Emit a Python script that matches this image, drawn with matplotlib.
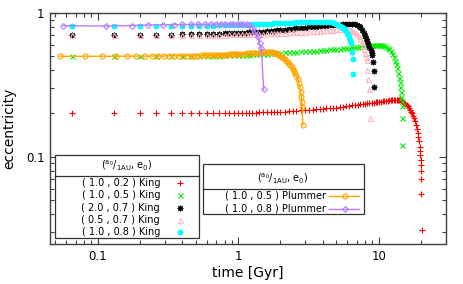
import matplotlib
matplotlib.use('Agg')
import matplotlib.pyplot as plt
from matplotlib.patches import Rectangle
from matplotlib.ticker import LogLocator, FuncFormatter, NullFormatter

plt.rcParams['font.family'] = ['DejaVu Sans']
plt.rcParams['mathtext.default'] = 'regular'

# ---- data (time in Gyr, eccentricity) ----
t_king_early = [0.066, 0.13, 0.2, 0.26, 0.33, 0.4, 0.46, 0.53, 0.6, 0.66, 0.73, 0.8, 0.86, 0.93, 1.0,
                1.06, 1.13, 1.2, 1.26, 1.33, 1.4, 1.5, 1.6, 1.7, 1.8, 1.9, 2.0]

# King (1.0, 0.2)
t_red = t_king_early + [2.15, 2.3, 2.45, 2.6, 2.8, 3.0, 3.2, 3.4, 3.6, 3.8, 4.0,
                        4.25, 4.5, 4.75, 5.0, 5.3, 5.6, 5.9, 6.2, 6.5, 6.8, 7.1, 7.4, 7.7, 8.0,
                        8.3, 8.6, 8.9, 9.2, 9.5, 9.8, 10.1, 10.4, 10.7, 11.0, 11.3, 11.6, 11.9, 12.2,
                        12.5, 12.8, 13.1, 13.4, 13.7, 14.0, 14.3, 14.6, 14.9, 15.2, 15.5, 15.8, 16.1, 16.4,
                        16.7, 17.0, 17.3, 17.6, 17.9, 18.2, 18.5, 18.8,
                        19.0, 19.2, 19.4, 19.6, 19.7, 19.8, 19.9, 20.0, 20.05, 20.1, 20.15, 20.2]
e_red = [0.200, 0.200, 0.200, 0.200, 0.200, 0.201, 0.201, 0.201, 0.201, 0.201, 0.202, 0.202, 0.202, 0.202,
         0.202, 0.202, 0.203, 0.203, 0.203, 0.203, 0.204, 0.204, 0.204, 0.205, 0.205, 0.205, 0.206,
         0.206, 0.207, 0.208, 0.209, 0.210, 0.211, 0.212, 0.213, 0.214, 0.215, 0.216,
         0.217, 0.218, 0.219, 0.220, 0.222, 0.223, 0.225, 0.226, 0.228, 0.229, 0.230, 0.232, 0.233, 0.234,
         0.235, 0.236, 0.237, 0.238, 0.239, 0.240, 0.241, 0.242, 0.243, 0.244, 0.245, 0.246, 0.247, 0.248,
         0.248, 0.249, 0.249, 0.250, 0.250, 0.249, 0.247, 0.245, 0.242, 0.238, 0.234, 0.229, 0.224, 0.218,
         0.212, 0.206, 0.200, 0.193, 0.185, 0.176, 0.166, 0.155,
         0.147, 0.138, 0.128, 0.117, 0.110, 0.103, 0.095, 0.0875, 0.080, 0.070, 0.055, 0.031]

# King (1.0, 0.5)
t_green = t_king_early + [2.15, 2.3, 2.45, 2.6, 2.8, 3.0, 3.2, 3.4, 3.6, 3.8, 4.0,
                          4.25, 4.5, 4.75, 5.0, 5.3, 5.6, 5.9, 6.2, 6.5, 6.8, 7.1, 7.4, 7.7, 8.0,
                          8.3, 8.6, 8.9, 9.2, 9.5, 9.8, 10.1, 10.4, 10.7, 11.0,
                          11.3, 11.6, 11.9, 12.2, 12.5, 12.8, 13.1,
                          13.3, 13.5, 13.7, 13.9, 14.1, 14.25, 14.4, 14.5, 14.6, 14.65, 14.7, 14.75]
e_green = [0.500, 0.500, 0.500, 0.501, 0.501, 0.502, 0.502, 0.503, 0.504, 0.505, 0.506, 0.507, 0.508, 0.509,
           0.510, 0.511, 0.513, 0.514, 0.515, 0.517, 0.518, 0.520, 0.522, 0.524, 0.526, 0.528, 0.530,
           0.532, 0.534, 0.536, 0.538, 0.540, 0.542, 0.544, 0.546, 0.548, 0.550, 0.552,
           0.556, 0.558, 0.561, 0.563, 0.566, 0.569, 0.572, 0.575, 0.578, 0.581, 0.584, 0.587, 0.590, 0.593,
           0.596, 0.598, 0.600, 0.602, 0.603, 0.603, 0.602, 0.600, 0.596, 0.590,
           0.583, 0.574, 0.561, 0.544, 0.522, 0.496, 0.466,
           0.440, 0.412, 0.385, 0.355, 0.330, 0.305, 0.280, 0.262, 0.245, 0.225, 0.186, 0.120]

# King (2.0, 0.7)
t_black = t_king_early + [2.15, 2.3, 2.45, 2.6, 2.8, 3.0, 3.2, 3.4, 3.6, 3.8, 4.0,
                          4.25, 4.5, 4.75, 5.0, 5.3, 5.6, 5.9, 6.2, 6.5, 6.8,
                          7.0, 7.2, 7.4, 7.6, 7.8, 8.0, 8.15, 8.3, 8.45, 8.6, 8.75, 8.9,
                          9.0, 9.1, 9.2, 9.3]
e_black = [0.705, 0.705, 0.706, 0.707, 0.708, 0.710, 0.711, 0.713, 0.715, 0.717, 0.719, 0.721, 0.723, 0.725,
           0.727, 0.729, 0.731, 0.733, 0.735, 0.737, 0.740, 0.743, 0.746, 0.750, 0.754, 0.758, 0.762,
           0.767, 0.772, 0.777, 0.782, 0.787, 0.792, 0.797, 0.801, 0.805, 0.809, 0.812,
           0.816, 0.820, 0.823, 0.826, 0.829, 0.832, 0.834, 0.836, 0.837, 0.836,
           0.830, 0.818, 0.798, 0.765, 0.728, 0.692, 0.665, 0.635, 0.605, 0.578, 0.553, 0.530,
           0.510, 0.458, 0.397, 0.304]

# King (0.5, 0.7)
t_pink = t_king_early + [2.15, 2.3, 2.45, 2.6, 2.8, 3.0, 3.2, 3.4, 3.6, 3.8, 4.0,
                         4.25, 4.5, 4.75, 5.0, 5.3, 5.6, 5.9, 6.2,
                         6.4, 6.6, 6.8, 7.0, 7.2, 7.4, 7.55, 7.7, 7.85, 8.0, 8.1,
                         8.2, 8.3, 8.4, 8.5, 8.7]
e_pink = [0.700, 0.700, 0.700, 0.701, 0.701, 0.702, 0.703, 0.704, 0.705, 0.706, 0.707, 0.708, 0.709, 0.710,
          0.711, 0.712, 0.713, 0.714, 0.715, 0.716, 0.717, 0.719, 0.721, 0.723, 0.725, 0.727, 0.729,
          0.731, 0.733, 0.735, 0.737, 0.740, 0.743, 0.746, 0.749, 0.752, 0.755, 0.758,
          0.761, 0.764, 0.767, 0.770, 0.772, 0.774, 0.774, 0.772,
          0.766, 0.755, 0.738, 0.718, 0.692, 0.660, 0.630, 0.598, 0.562, 0.525, 0.495,
          0.470, 0.400, 0.347, 0.294, 0.187]

# King (1.0, 0.8)
t_cyan = t_king_early + [2.15, 2.3, 2.45, 2.6, 2.8, 3.0, 3.2, 3.4, 3.6, 3.8, 4.0,
                         4.2, 4.4, 4.6, 4.8, 5.0,
                         5.15, 5.3, 5.45, 5.6, 5.75, 5.9, 6.0,
                         6.1, 6.2, 6.3, 6.4, 6.5, 6.55, 6.6]
e_cyan = [0.810, 0.810, 0.811, 0.811, 0.812, 0.813, 0.814, 0.815, 0.816, 0.818, 0.819, 0.820, 0.822, 0.823,
          0.825, 0.827, 0.828, 0.830, 0.832, 0.834, 0.836, 0.838, 0.840, 0.843, 0.846, 0.849, 0.852,
          0.854, 0.856, 0.858, 0.860, 0.862, 0.864, 0.866, 0.868, 0.869, 0.870, 0.870,
          0.869, 0.866, 0.861, 0.853, 0.842,
          0.830, 0.815, 0.798, 0.785, 0.770, 0.750, 0.728,
          0.705, 0.680, 0.650, 0.615, 0.538, 0.476, 0.376]

# Plummer (1.0, 0.5)
t_orange = [0.054, 0.081, 0.108, 0.135, 0.162, 0.189, 0.216, 0.243, 0.27, 0.297, 0.324, 0.351,
            0.378, 0.405, 0.432, 0.459, 0.486, 0.513, 0.54, 0.567, 0.594, 0.621, 0.648, 0.675,
            0.702, 0.729, 0.756, 0.783, 0.81, 0.837, 0.864, 0.891, 0.918, 0.945, 0.972, 1.0,
            1.05, 1.1, 1.15, 1.2, 1.25, 1.3, 1.35, 1.4, 1.45, 1.5, 1.55, 1.6, 1.65,
            1.7, 1.75, 1.8, 1.85, 1.9, 1.95, 2.0, 2.05, 2.1, 2.15, 2.2, 2.25, 2.3, 2.35, 2.4,
            2.45, 2.5, 2.55, 2.6, 2.65, 2.7,
            2.74, 2.78, 2.81, 2.84, 2.86, 2.88]
e_orange = [0.500, 0.500, 0.500, 0.500, 0.501, 0.501, 0.501, 0.502, 0.502, 0.502, 0.503, 0.503,
            0.504, 0.504, 0.505, 0.505, 0.506, 0.506, 0.507, 0.507, 0.508, 0.509, 0.509, 0.510,
            0.511, 0.511, 0.512, 0.513, 0.513, 0.514, 0.515, 0.515, 0.516, 0.517, 0.517, 0.518,
            0.520, 0.521, 0.523, 0.524, 0.526, 0.527, 0.529, 0.530, 0.532, 0.533, 0.534, 0.535, 0.536,
            0.535, 0.532, 0.528, 0.523, 0.517, 0.510, 0.503, 0.495, 0.486, 0.477, 0.467, 0.456,
            0.445, 0.434, 0.422, 0.410, 0.397, 0.382, 0.366, 0.348, 0.326,
            0.305, 0.282, 0.262, 0.240, 0.221, 0.165]

# Plummer (1.0, 0.8)
t_purple = [0.057, 0.115, 0.175, 0.23, 0.29, 0.35, 0.40, 0.46, 0.52, 0.58, 0.64, 0.70, 0.76, 0.81,
            0.87, 0.92, 0.98, 1.03, 1.09, 1.15, 1.2, 1.26, 1.32, 1.38, 1.42, 1.46, 1.52]
e_purple = [0.815, 0.812, 0.818, 0.825, 0.828, 0.830, 0.832, 0.833, 0.834, 0.835, 0.836, 0.836, 0.837, 0.837,
            0.837, 0.837, 0.836, 0.835, 0.834, 0.832, 0.822, 0.790, 0.745, 0.684, 0.615, 0.568, 0.294]

king_labels = ['( 1.0 , 0.2 ) King', '( 1.0 , 0.5 ) King', '( 2.0 , 0.7 ) King',
               '( 0.5 , 0.7 ) King', '( 1.0 , 0.8 ) King']
plummer_labels = ['( 1.0 , 0.5 ) Plummer', '( 1.0 , 0.8 ) Plummer']
key_title = r'($^{a_0}/_{1AU}$, e$_0$)'

asterisk = (8, 2, 0)
king_series = [
    (t_red, e_red, dict(marker='+', color='#ff0000', ms=4.2, mew=0.8)),
    (t_green, e_green, dict(marker='x', color='#00ee00', ms=3.6, mew=0.8)),
    (t_black, e_black, dict(marker=asterisk, color='#000000', ms=4.0, mew=0.8)),
    (t_pink, e_pink, dict(marker='^', color='#ffb6c1', ms=3.6, mew=0.8, mfc='none')),
    (t_cyan, e_cyan, dict(marker=asterisk, color='#00ffff', ms=4.0, mew=0.9)),
]
plummer_series = [
    (t_orange, e_orange, dict(marker='o', color='#ffa500', ms=3.6, mew=0.8, mfc='none', lw=1.0)),
    (t_purple, e_purple, dict(marker='D', color='#b87cff', ms=3.0, mew=0.8, mfc='none', lw=1.0)),
]

fig = plt.figure(figsize=(4.63, 2.84), dpi=100)
ax = fig.add_axes([50 / 463, 1 - 244 / 284, 395.7 / 463, 231 / 284])

for t, e, st in king_series:
    ax.plot(t, e, ls='none', **st)
for t, e, st in plummer_series:
    ax.plot(t, e, ls='-', **st)

ax.set_xscale('log')
ax.set_yscale('log')
ax.set_xlim(0.0458, 30)
ax.set_ylim(0.0247, 1.0)

fmt = FuncFormatter(lambda v, _: f'{v:g}')
ax.xaxis.set_major_locator(LogLocator(base=10))
ax.yaxis.set_major_locator(LogLocator(base=10))
ax.xaxis.set_major_formatter(fmt)
ax.yaxis.set_major_formatter(fmt)
ax.xaxis.set_minor_formatter(NullFormatter())
ax.yaxis.set_minor_formatter(NullFormatter())
ax.tick_params(which='both', direction='in', top=True, right=True, colors='#404040',
               labelcolor='black', labelsize=8.5, width=0.8)
ax.tick_params(which='major', length=5, pad=4)
ax.tick_params(which='minor', length=3)
for s in ax.spines.values():
    s.set_color('#404040')
    s.set_linewidth(1.0)

ax.set_xlabel('time [Gyr]', fontsize=10)
ax.set_ylabel('eccentricity', fontsize=10)
ax.xaxis.set_label_coords(0.5, -0.095)
ax.yaxis.set_label_coords(-0.085, 0.5)

# ---- keys (gnuplot style boxes) ----
tr = ax.transAxes
frame = dict(transform=tr, facecolor='white', edgecolor='#333333', lw=0.9, zorder=5)

# King key
ax.add_patch(Rectangle((0.0126, 0.026), 0.364, 0.359, **frame))
ax.plot([0.0126, 0.3766], [0.2957, 0.2957], transform=tr, color='#333333', lw=0.9, zorder=6)
ax.text(0.194, 0.343, key_title, transform=tr, ha='center', va='center', fontsize=7, zorder=7)
rows = [0.263, 0.212, 0.156, 0.104, 0.051]
for lab, y, (t, e, st) in zip(king_labels, rows, king_series):
    ax.text(0.278, y, lab, transform=tr, ha='right', va='center', fontsize=7, zorder=7)
    ax.plot([0.3285], [y], transform=tr, ls='none', clip_on=False, zorder=7, **st)

# Plummer key
ax.add_patch(Rectangle((0.3867, 0.130), 0.4068, 0.216, **frame))
ax.plot([0.3867, 0.7935], [0.237, 0.237], transform=tr, color='#333333', lw=0.9, zorder=6)
ax.text(0.589, 0.284, key_title, transform=tr, ha='center', va='center', fontsize=7, zorder=7)
rows = [0.209, 0.152]
for lab, y, (t, e, st) in zip(plummer_labels, rows, plummer_series):
    ax.text(0.6975, y, lab, transform=tr, ha='right', va='center', fontsize=7, zorder=7)
    ax.plot([0.705, 0.781], [y, y], transform=tr, color=st['color'], lw=1.0, zorder=7)
    ax.plot([0.745], [y], transform=tr, ls='none', zorder=8,
            **{k: v for k, v in st.items() if k != 'lw'})

fig.savefig('out.png', dpi=100)
